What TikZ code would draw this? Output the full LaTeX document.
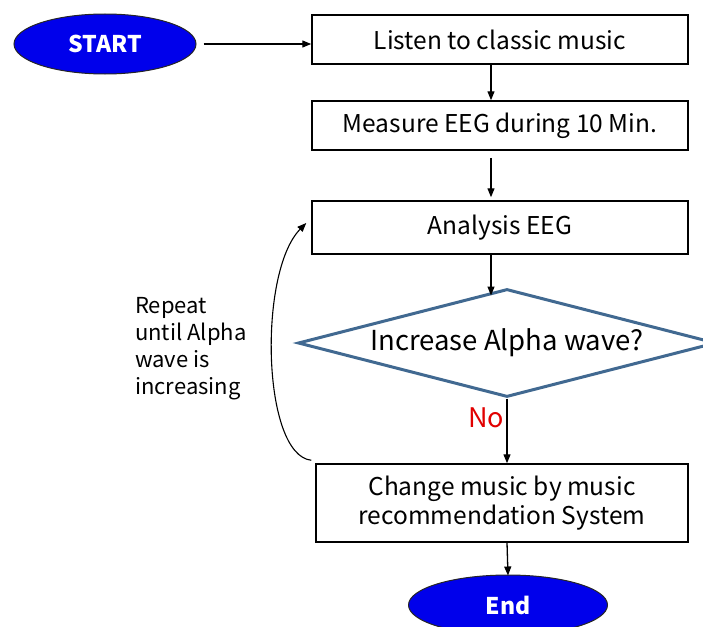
\documentclass[tikz,border=0pt]{standalone}
\usepackage{fontspec}
\setmainfont{Noto Sans CJK KR}
\usetikzlibrary{shapes.geometric, positioning, arrows.meta}

\definecolor{termblue}{RGB}{0,0,235}
\definecolor{decideblue}{RGB}{65,105,145}
\definecolor{nored}{RGB}{225,0,0}

\tikzset{
  procbox/.style={draw=black, line width=1.5pt, minimum width=376pt, align=center,
    font=\fontsize{24.5}{29}\selectfont},
  termin/.style={ellipse, draw=black!85, line width=1pt, fill=termblue, text=white,
    inner sep=0pt, font=\fontsize{23}{27}\selectfont\bfseries},
  decide/.style={diamond, draw=decideblue, line width=3pt, inner sep=0pt, aspect=3.87,
    minimum width=418pt, minimum height=108pt, font=\fontsize{27.5}{32}\selectfont},
  flowarrow/.style={-{Triangle[length=9pt,width=7pt]}, line width=1.3pt}
}

\begin{document}
\begin{tikzpicture}[x=1pt, y=-1pt]
  \useasboundingbox (0,0) rectangle (703,626);

  % terminals and steps
  \node[termin, minimum width=182pt, minimum height=60pt] (start) at (105,44) {START};
  \node[procbox, minimum height=49pt] (listen) at (500,39.5) {Listen to classic music};
  \node[procbox, minimum height=49pt] (measure) at (500,125.5) {Measure EEG during 10 Min.};
  \node[procbox, minimum height=53pt] (analysis) at (500,227.5) {Analysis EEG};
  \node[decide] (alpha) at (507,343) {Increase Alpha wave?};
  \node[procbox, minimum width=372pt, minimum height=78pt] (change) at (502,503)
    {Change music by music\\recommendation System};
  \node[termin, minimum width=199pt, minimum height=60pt] (fin) at (508,605) {End};

  % labels
  \node[anchor=north west, align=left, inner sep=0pt, font=\fontsize{22}{27}\selectfont]
    (repeat) at (135,297) {Repeat\\until Alpha\\wave is\\increasing};
  \node[text=nored, inner sep=0pt, font=\fontsize{27}{32}\selectfont]
    (no) at (486,418) {No};

  % connectors
  \draw[flowarrow] ([xshift=7pt]start.east) -- (listen.west |- start.east);
  \draw[flowarrow] ([xshift=-9pt]listen.south) -- ([xshift=-9pt]measure.north);
  \draw[flowarrow] ([xshift=-9pt,yshift=-7pt]measure.south) -- ([xshift=-9pt,yshift=3pt]analysis.north);
  \draw[flowarrow] ([xshift=-9pt]analysis.south) -- ([xshift=-16pt,yshift=-8pt]alpha.north);
  \draw[flowarrow] (alpha.south) -- ([xshift=5pt]change.north);
  \draw[flowarrow] ([xshift=5pt]change.south) -- ([yshift=-1pt]fin.north);
  \draw[flowarrow, line width=1.1pt] ([xshift=-4pt,yshift=3pt]change.north west)
    .. controls (262,455) and (258,272) .. ([xshift=-5pt,yshift=4.5pt]analysis.west);
\end{tikzpicture}
\end{document}
